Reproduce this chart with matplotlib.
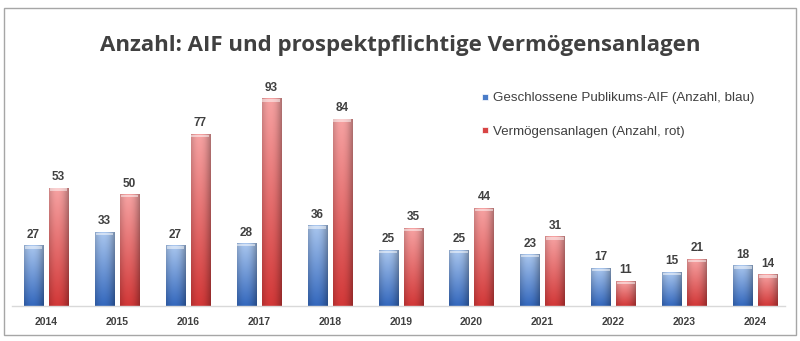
import matplotlib.pyplot as plt
import numpy as np
from matplotlib.colors import to_rgb
from matplotlib.lines import Line2D
from matplotlib.patches import Rectangle

years = ["2014", "2015", "2016", "2017", "2018", "2019", "2020", "2021", "2022", "2023", "2024"]
aif = [27, 33, 27, 28, 36, 25, 25, 23, 17, 15, 18]
vermoegen = [53, 50, 77, 93, 84, 35, 44, 31, 11, 21, 14]

TITLE = "Anzahl: AIF und prospektpflichtige Vermögensanlagen"
LABELS = ["Geschlossene Publikums-AIF (Anzahl, blau)", "Vermögensanlagen (Anzahl, rot)"]

BLUE_TOP, BLUE_BOT = "#a9c6ee", "#3468bd"
RED_TOP, RED_BOT = "#f6a2a2", "#d23838"
TEXT = "#404040"

W, OFF = 0.27, 0.176


def gradient_bar(ax, x0, h, top, bot):
    if h <= 0:
        return
    t, b = np.array(to_rgb(top)), np.array(to_rgb(bot))
    ny, nx = 64, 24
    v = np.linspace(0, 1, ny)[:, None, None]  # 0 at bottom
    col = b + (t - b) * v
    # horizontal shading: lighter left-centre, darker edges
    u = np.linspace(-1, 1, nx)
    shade = 1 - 0.22 * (np.abs(u + 0.15) ** 2)
    img = np.clip(col * shade[None, :, None], 0, 1)
    ax.imshow(img, extent=[x0, x0 + W, 0, h], origin="lower", aspect="auto",
              interpolation="bilinear", zorder=2)
    # light cap at the top
    ax.add_patch(Rectangle((x0 + 0.01, h - 1.2), W - 0.02, 1.0, facecolor="white",
                           alpha=0.5, edgecolor="none", zorder=3))


fig = plt.figure(figsize=(8, 3.41), dpi=100)
plt.rcParams["font.family"] = ["Liberation Sans", "DejaVu Sans"]

# outer frame
fig.patches.append(Rectangle((4 / 800, 6 / 341), 792 / 800, 327 / 341, transform=fig.transFigure,
                             facecolor="none", edgecolor="#a6a6a6", linewidth=1.0, zorder=-1))

ax = fig.add_axes([12 / 800, 35 / 341, 773 / 800, (306 - 83.4) / 341])
ax.set_facecolor("none")
x = np.arange(len(years))
for i in x:
    gradient_bar(ax, i - OFF - W / 2, aif[i], BLUE_TOP, BLUE_BOT)
    gradient_bar(ax, i + OFF - W / 2, vermoegen[i], RED_TOP, RED_BOT)
    ax.text(i - OFF, aif[i] + 2.3, str(aif[i]), ha="center", va="bottom",
            fontsize=8.5, fontweight="bold", color=TEXT)
    ax.text(i + OFF, vermoegen[i] + 2.3, str(vermoegen[i]), ha="center", va="bottom",
            fontsize=8.5, fontweight="bold", color=TEXT)

ax.set_xlim(-0.48, 10.42)
ax.set_ylim(0, 100)
for s in ["top", "right", "left"]:
    ax.spines[s].set_visible(False)
ax.spines["bottom"].set_color("#d9d9d9")
ax.spines["bottom"].set_linewidth(1.0)
ax.set_yticks([])
ax.set_xticks(x)
ax.set_xticklabels(years, fontsize=7.5, fontweight="bold", color=TEXT)
ax.tick_params(axis="x", length=0, pad=8)

fig.text(0.5, (341 - 45) / 341, TITLE, ha="center", va="center", fontsize=16,
         fontweight="bold", color=TEXT, family=["Open Sans", "DejaVu Sans"])

handles = [Line2D([], [], marker="s", linestyle="none", markersize=5,
                  markerfacecolor=c, markeredgecolor="white", markeredgewidth=0.5)
           for c in ["#4a7cc8", "#d84444"]]
fig.legend(handles, LABELS, loc="upper left", bbox_to_anchor=(466 / 800, (341 - 80) / 341),
           frameon=False, fontsize=9.6, labelcolor=TEXT, handletextpad=0.1,
           handlelength=1.0, labelspacing=1.6)

fig.savefig("out.png", dpi=100)
